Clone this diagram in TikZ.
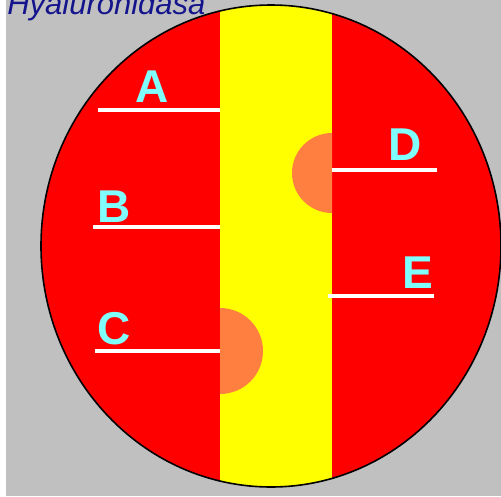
\documentclass[tikz,border=0pt]{standalone}
\usepackage{fontspec}
\setmainfont{Liberation Sans}
\usepackage{xcolor}
\definecolor{bggray}{HTML}{C0C0C0}
\definecolor{cellred}{HTML}{FF0000}
\definecolor{bandyellow}{HTML}{FFFF00}
\definecolor{spotorange}{HTML}{FF7F40}
\definecolor{labelcyan}{HTML}{80FFFF}
\definecolor{titlenavy}{HTML}{14148C}
\usetikzlibrary{positioning}
\tikzset{
  every picture/.style={line width=0.6pt},
  letter/.style={font=\fontsize{46}{46}\bfseries\selectfont, text=labelcyan, anchor=base, inner sep=0pt},
  marker/.style={draw=white, line width=4pt},
  spot/.style={fill=spotorange},
}
\begin{document}
\begin{tikzpicture}[x=1pt, y=-1pt]
  \useasboundingbox (0,0) rectangle (501,496);
  \fill[bggray] (0,0) rectangle (501,496);
  \fill[white] (0,0) rectangle (6,496);
  % cell with band and spots
  \fill[cellred] (271,246) ellipse[x radius=230, y radius=241];
  \begin{scope}
    \clip (271,246) ellipse[x radius=230, y radius=241];
    \fill[bandyellow] (220,-10) rectangle (332,510);
    \clip (220,-10) rectangle (332,510);
    \fill[spot] (332,173) circle[radius=40];
    \fill[spot] (220,351) circle[radius=43];
  \end{scope}
  \draw[black, line width=1.6pt] (271,246) ellipse[x radius=230, y radius=241];
  % title
  \node[font=\fontsize{31}{31}\itshape\selectfont, text=titlenavy, anchor=base west, inner sep=0pt] (title) at (7,14) {Hyaluronidasa};
  % markers
  \coordinate (a0) at (98,110);  \coordinate (a1) at (220,110);
  \coordinate (b0) at (93,227);  \coordinate (b1) at (220,227);
  \coordinate (c0) at (95,351);  \coordinate (c1) at (220,351);
  \coordinate (d0) at (332,170); \coordinate (d1) at (437,170);
  \coordinate (e0) at (328,296); \coordinate (e1) at (434,296);
  \foreach \m in {a,b,c,d,e} \draw[marker] (\m0) -- (\m1);
  % labels
  \node[letter] (la) at (152,102) {A};
  \node[letter] (lb) at (114,222) {B};
  \node[letter] (lc) at (114,344) {C};
  \node[letter] (ld) at (405,160) {D};
  \node[letter] (le) at (418,288) {E};
\end{tikzpicture}
\end{document}
